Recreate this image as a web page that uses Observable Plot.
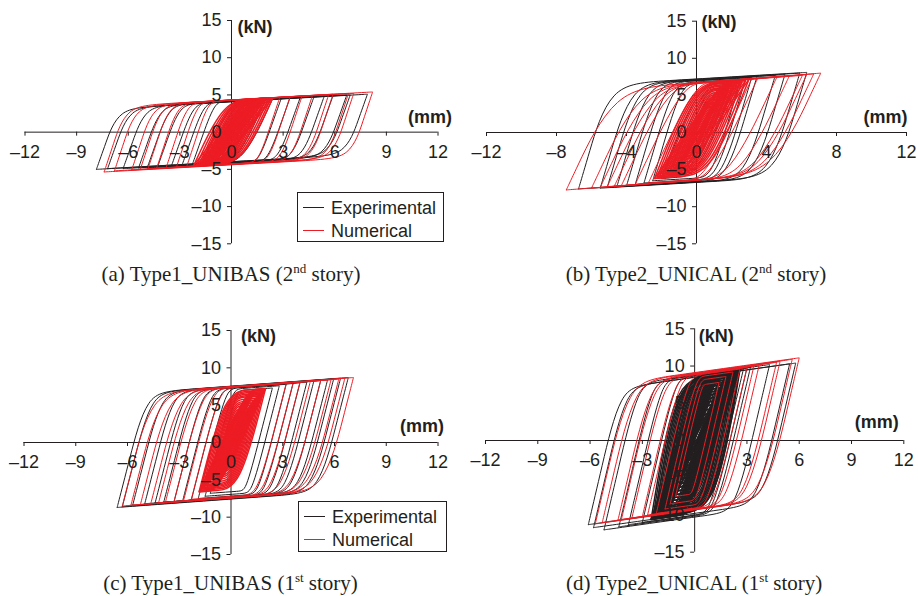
<!DOCTYPE html>
<html><head><meta charset="utf-8">
<script src="https://cdn.jsdelivr.net/npm/d3@7"></script>
<script src="https://cdn.jsdelivr.net/npm/@observablehq/plot@0.6"></script>
<style>
body{margin:0;background:#fff;}
#wrap{position:relative;width:918px;height:596px;overflow:hidden;font-family:"Liberation Sans",Arial,sans-serif;color:#231f20;}
.panel{position:absolute;}
.cap{position:absolute;width:400px;text-align:center;font-family:"Liberation Serif","Times New Roman",serif;font-size:21px;line-height:22px;white-space:nowrap;color:#231f20;}
.cap sup{font-size:0.62em;vertical-align:0.6em;line-height:0;}
.legend{position:absolute;border:1px solid #231f20;background:#fff;box-sizing:border-box;}
.legend .row{position:absolute;left:0;height:20px;line-height:20px;font-size:18px;white-space:nowrap;}
.legend .sw{position:absolute;left:5px;top:9.5px;width:21px;height:1.3px;}
.legend .lab{position:absolute;left:33px;top:0;}
</style>
</head><body><div id="wrap"></div>
<script>
// ---------- tick values and labels ----------
const xTicks3 = [-12, -9, -6, -3, 0, 3, 6, 9, 12];
const xLabels3 = ["\u201312", "\u20139", "\u20136", "\u20133", "0", "3", "6", "9", "12"];
const xTicks4 = [-12, -8, -4, 0, 4, 8, 12];
const xLabels4 = ["\u201312", "\u20138", "\u20134", "0", "4", "8", "12"];
const yTicks = [-15, -10, -5, 0, 5, 10, 15];
const yLabels = ["\u201315", "\u201310", "\u20135", "0", "5", "10", "15"];
const legendLabels = ["Experimental", "Numerical"];
const captionLetters = ["(a)", "(b)", "(c)", "(d)"];
const captionNames = ["Type1_UNIBAS", "Type2_UNICAL", "Type1_UNIBAS", "Type2_UNICAL"];
const captionStory = ["2", "2", "1", "1"];
const captionOrd = ["nd", "nd", "st", "st"];

// ---------- hysteresis cycles: [neg. peak disp (mm), force there (kN), pos. peak disp (mm), force there (kN)] ----------
const aExp = [
[-7.85,-5.0,7.9,5.1],[-7.2,-4.9,6.9,5.0],[-6.3,-4.9,6.7,5.0],[-5.4,-4.8,5.9,4.9],
[-4.9,-4.8,5.4,4.9],[-4.3,-4.7,4.8,4.8],[-3.5,-4.6,4.0,4.7],[-2.9,-4.6,3.4,4.6],
[-2.3,-4.5,2.9,4.6]];
const aExpCore = [[-1.8,-4.4,2.4,4.5],[-1.5,-4.3,2.0,4.4],[-1.2,-4.2,1.6,4.3],[-1.0,-4.1,1.3,4.2]];
const aNum = [
[-7.4,-5.35,8.2,5.4],[-6.8,-5.2,7.1,5.2],[-5.8,-5.1,6.8,5.2],[-5.3,-5.0,5.9,5.1],
[-4.85,-4.9,5.65,5.05],[-4.35,-4.85,4.7,4.9],[-3.8,-4.8,4.1,4.85],[-3.2,-4.7,3.4,4.75],
[-2.6,-4.6,2.8,4.65]];
const aNumCore = [
[-2.2,-4.5,2.4,4.6],[-2.05,-4.5,2.3,4.6],[-1.9,-4.4,2.15,4.5],[-1.8,-4.4,2.0,4.5],
[-1.7,-4.3,1.9,4.4],[-1.6,-4.3,1.8,4.4],[-1.5,-4.2,1.7,4.3],[-1.4,-4.2,1.6,4.3],
[-1.3,-4.1,1.5,4.2],[-1.2,-4.0,1.4,4.1],[-1.1,-3.9,1.3,4.0],[-1.0,-3.8,1.2,3.9],
[-0.9,-3.7,1.1,3.8],[-0.8,-3.5,1.0,3.6],[-0.6,-3.0,0.8,3.2],[-0.45,-2.5,0.6,2.7]];
const bExp = [
[-6.74,-7.6,6.3,8.1],[-5.5,-7.5,5.9,8.0],[-5.1,-7.4,5.05,7.8],[-4.55,-7.3,4.5,7.7],
[-4.0,-7.2,3.45,7.5],[-3.5,-7.0,3.15,7.4],[-3.0,-6.8,2.8,7.2],[-2.5,-6.5,2.5,7.0]];
const bExpCore = [[-2.0,-6.2,2.2,6.8],[-1.6,-5.8,1.9,6.5],[-1.3,-5.2,1.6,6.0],[-1.0,-4.6,1.3,5.4]];
const bNum = [
[-7.44,-7.74,7.1,8.0],[-6.0,-7.5,6.7,7.9],[-5.5,-7.4,6.3,7.8],[-5.1,-7.3,6.05,7.7],
[-4.7,-7.25,5.3,7.6],[-4.3,-7.2,4.6,7.5],[-3.5,-7.0,3.5,7.3],[-2.75,-6.8,3.15,7.2]];
const bNumCore = [
[-2.4,-6.2,3.0,7.2],[-2.25,-6.0,2.8,7.0],[-2.1,-5.8,2.6,6.8],[-1.95,-5.6,2.45,6.6],
[-1.8,-5.4,2.3,6.4],[-1.65,-5.2,2.15,6.2],[-1.5,-5.0,2.0,6.0],[-1.35,-4.8,1.85,5.8],
[-1.2,-4.6,1.7,5.5],[-1.05,-4.3,1.55,5.2],[-0.9,-4.0,1.4,4.9],[-0.75,-3.6,1.2,4.5],
[-0.6,-3.2,1.0,4.0],[-0.5,-2.8,0.85,3.5]];
const cExp = [
[-6.6,-8.7,6.8,8.7],[-6.3,-8.6,6.35,8.6],[-5.7,-8.4,5.95,8.5],[-5.0,-8.2,5.6,8.4],
[-4.4,-8.1,5.2,8.3],[-3.9,-8.0,4.8,8.2],[-3.3,-7.9,4.4,8.1],[-2.8,-7.8,4.0,8.0],
[-2.3,-7.7,3.6,7.9],[-1.9,-7.5,3.2,7.8],[-1.5,-7.2,2.8,7.6],[-1.2,-6.8,2.4,7.3]];
const cNum = [
[-6.3,-8.5,7.1,8.7],[-5.8,-8.4,6.6,8.6],[-5.25,-8.3,6.25,8.5],[-4.65,-8.2,5.8,8.4],
[-4.2,-8.1,5.2,8.3],[-3.8,-8.0,4.6,8.2],[-3.3,-7.9,4.0,8.1],[-2.75,-7.8,3.6,8.0],
[-2.3,-7.6,3.2,7.9]];
const cNumCore = [
[-1.85,-6.6,2.0,7.2],[-1.75,-6.4,1.9,7.0],[-1.65,-6.2,1.8,6.8],[-1.55,-6.0,1.7,6.6],
[-1.45,-5.8,1.6,6.4],[-1.35,-5.6,1.5,6.2],[-1.25,-5.3,1.4,5.9],[-1.15,-5.0,1.3,5.6],
[-1.05,-4.7,1.2,5.3],[-0.95,-4.4,1.1,5.0],[-0.85,-4.0,1.0,4.6],[-0.75,-3.7,0.9,4.2],
[-0.65,-3.4,0.8,3.8],[-0.55,-3.0,0.7,3.4]];
const dExp = [
[-6.1,-11.3,5.8,10.4],[-5.8,-11.7,5.45,10.3],[-5.2,-12.0,4.3,10.2],[-4.35,-11.6,3.2,9.8],
[-3.8,-11.3,3.0,9.7],[-3.0,-11.0,2.8,9.6]];
const dExpCore = [
[-2.4,-10.4,2.6,9.5],[-2.3,-10.3,2.5,9.4],[-2.2,-10.2,2.4,9.3],[-2.1,-10.0,2.3,9.2],
[-2.0,-9.8,2.2,9.0],[-1.9,-9.6,2.1,8.8],[-1.8,-9.4,2.0,8.6],[-1.7,-9.1,1.9,8.4],
[-1.6,-8.8,1.8,8.1],[-1.5,-8.5,1.7,7.8],[-1.4,-8.1,1.6,7.5],[-1.3,-7.7,1.5,7.1],
[-1.2,-7.3,1.4,6.7],[-1.1,-6.8,1.3,6.3],[-1.0,-6.3,1.2,5.8],[-0.9,-5.8,1.1,5.3],
[-0.8,-5.2,1.0,4.8],[-0.7,-4.6,0.9,4.2],[-0.6,-4.0,0.8,3.6],[-0.5,-3.4,0.7,3.0],
[-0.4,-2.6,0.55,2.4],
[-2.3,-10.5,1.8,8.8],[-1.7,-10.0,2.4,9.3],[-2.0,-10.2,1.4,8.0],[-1.4,-9.0,2.2,9.0],
[-2.5,-10.6,2.0,9.0],[-1.9,-10.1,2.55,9.4]];
const dNum = [
[-5.7,-11.2,6.0,11.1],[-5.3,-11.0,5.6,10.9],[-4.4,-10.7,4.9,10.6],[-4.2,-10.6,4.7,10.5],
[-3.6,-10.4,3.7,10.1],[-3.0,-10.2,3.4,10.0],[-2.7,-10.0,3.0,9.8],[-2.2,-9.8,2.6,9.6],
[-1.7,-9.2,2.2,9.2],[-1.4,-8.5,1.8,8.6],[-1.1,-7.5,1.4,7.8]];

// branch shape read from the loops: [elastic slope kN/mm, post-yield slope kN/mm, knee rounding on elastic side, on plateau side]
const aExpShape = [6.5, 0.13, 0.6, 0.15], aNumShape = [7, 0.13, 0.6, 0.15];
const aCoreShape = [5, 0.13, 0.9, 0.6], aCoreNarrowShape = [3, 0.13, 0.9, 0.6];
const bExpShape = [8, 0.14, 0.7, 0.25], bNumShape = [5, 0.18, 0.85, 0.3];
const bCoreShape = [6, 0.18, 0.9, 0.6], bCoreNarrowShape = [3.5, 0.18, 0.9, 0.6];
const cExpShape = [9, 0.17, 0.6, 0.15], cNumShape = [9, 0.17, 0.7, 0.2];
const cCoreShape = [9, 0.17, 0.9, 0.6], cCoreNarrowShape = [5, 0.17, 0.9, 0.6];
const dExpShape = [10, 0.33, 0.6, 0.15], dNumShape = [10, 0.33, 0.7, 0.2];
const dCoreShape = [14, 0.33, 0.9, 0.6], dCoreNarrowShape = [7, 0.33, 0.9, 0.6], dCoreChordShape = [2, 0.33, 0.9, 0.6];

const ink = "#231f20";
const redInk = "#ed1c24";

// each cycle: negative peak -> elastic rise -> rounded knee -> positive peak -> elastic drop -> rounded knee -> negative peak
function cyclePoints(cycles, shape, tag) {
  const [K, h, a, b] = shape;
  const lerp = (p, q, t) => [p[0] + (q[0] - p[0]) * t, p[1] + (q[1] - p[1]) * t];
  const pts = [];
  cycles.forEach(([dn, Fn, dp, Fp], i) => {
    const T = [dn, Fn], U = [dp, Fp];
    const span = (Fp - Fn - h * (dp - dn)) / (K - h);
    const seq = [T, T, T];
    if (span > 0 && span < dp - dn) {
      const K1 = [dn + span, Fn + K * span], K2 = [dp - span, Fp - K * span];
      seq.push(lerp(K1, T, a), K1, lerp(K1, U, b), U, U, U, lerp(K2, U, a), K2, lerp(K2, T, b), T, T, T);
    } else {
      seq.push(U, U, U, T, T, T);
    }
    seq.forEach(([x, y]) => pts.push({x, y, loop: tag + i}));
  });
  return pts;
}

// layers: [cycles, shape, colour, stroke width]
const panels = [
  {left: 0, top: 0, ml: 24.5, mr: 21.5, mt: 20, mb: 16.7, xt: xTicks3, xl: xLabels3,
   layers: [[aExp, aExpShape, ink, 1], [aExpCore, aCoreShape, ink, 1], [aNum, aNumShape, redInk, 1],
            [aNumCore, aCoreShape, redInk, 1.5], [aNumCore, aCoreNarrowShape, redInk, 1.5]],
   kn: [6, 7], mm: [14, -14.5], legend: [297, 192, 147, 50]},
  {left: 459, top: 0, ml: 27, mr: 12, mt: 20.7, mb: 16.7, xt: xTicks4, xl: xLabels4,
   layers: [[bExp, bExpShape, ink, 1], [bExpCore, bCoreShape, ink, 1], [bNum, bNumShape, redInk, 1],
            [bNumCore, bCoreShape, redInk, 1.5], [bNumCore, bCoreNarrowShape, redInk, 1.5]],
   kn: [5, 1], mm: [1, -15.5], legend: null},
  {left: 0, top: 309, ml: 23.5, mr: 21.5, mt: 21, mb: 15, xt: xTicks3, xl: xLabels3,
   layers: [[cExp, cExpShape, ink, 1], [cNum, cNumShape, redInk, 1],
            [cNumCore, cCoreShape, redInk, 1.5], [cNumCore, cCoreNarrowShape, redInk, 1.5]],
   kn: [10, 6], mm: [6, -16.5], legend: [298, 501, 149, 51]},
  {left: 459, top: 309, ml: 26, mr: 14.7, mt: 19.3, mb: 17.3, xt: xTicks3, xl: xLabels3,
   layers: [[dExp, dExpShape, ink, 1], [dExpCore, dCoreShape, ink, 1.5], [dExpCore, dCoreNarrowShape, ink, 1.5],
            [dExpCore, dCoreChordShape, ink, 1.5], [dNum, dNumShape, redInk, 1]],
   kn: [4, 7], mm: [-5, -18], legend: null}
];

const wrap = document.getElementById("wrap");
const W = 459, H = 260;

panels.forEach((p, k) => {
  const lineMarks = p.layers.map(([cycles, shape, color, sw], j) =>
    Plot.line(cyclePoints(cycles, shape, "s" + j + "_"), {
      x: "x", y: "y", z: "loop", curve: "basis", stroke: color, strokeWidth: sw, strokeLinejoin: "round"
    }));
  const chart = Plot.plot({
    width: W, height: H,
    marginLeft: p.ml, marginRight: p.mr, marginTop: p.mt, marginBottom: p.mb,
    x: {domain: [-12, 12], axis: null},
    y: {domain: [-15, 15], axis: null},
    style: {fontFamily: "'Liberation Sans', Arial, sans-serif", fontSize: "18px", color: ink, background: "transparent", overflow: "visible"},
    marks: [
      Plot.ruleY([0], {x1: -12, x2: 12, stroke: ink, strokeWidth: 1}),
      Plot.ruleX([0], {y1: -15, y2: 15, stroke: ink, strokeWidth: 1}),
      Plot.ruleX(p.xt, {x: d => d, y1: 0, y2: 0, insetBottom: -4, stroke: ink}),
      Plot.ruleY(yTicks, {y: d => d, x1: 0, x2: 0, insetLeft: -4, stroke: ink}),
      ...lineMarks,
      Plot.text(p.xt, {x: d => d, y: 0, text: (d, i) => p.xl[i], dy: 20, fill: ink, fontSize: 18}),
      Plot.text(yTicks, {x: 0, y: d => d, text: (d, i) => yLabels[i], dx: -10, textAnchor: "end", fill: ink, fontSize: 18}),
      Plot.text(["(kN)"], {x: 0, y: 15, text: d => d, dx: p.kn[0], dy: p.kn[1], textAnchor: "start", fontWeight: "bold", fill: ink, fontSize: 18}),
      Plot.text(["(mm)"], {x: 12, y: 0, text: d => d, dx: p.mm[0], dy: p.mm[1], textAnchor: "end", fontWeight: "bold", fill: ink, fontSize: 18})
    ]
  });
  const div = document.createElement("div");
  div.className = "panel";
  div.style.left = p.left + "px";
  div.style.top = p.top + "px";
  div.appendChild(chart);
  wrap.appendChild(div);

  // caption centred on the force axis
  const axisX = p.left + p.ml + (W - p.ml - p.mr) / 2;
  const cap = document.createElement("div");
  cap.className = "cap";
  cap.style.left = (axisX - 200) + "px";
  cap.style.top = (p.top + 263) + "px";
  cap.innerHTML = `${captionLetters[k]} ${captionNames[k]} (${captionStory[k]}<sup>${captionOrd[k]}</sup> story)`;
  wrap.appendChild(cap);

  if (p.legend) {
    const [lx, ly, lw, lh] = p.legend;
    const lg = document.createElement("div");
    lg.className = "legend";
    Object.assign(lg.style, {left: lx + "px", top: ly + "px", width: lw + "px", height: lh + "px"});
    [ink, redInk].forEach((c, r) => {
      const row = document.createElement("div");
      row.className = "row";
      row.style.top = (r === 0 ? 4.5 : 27.5) + "px";
      row.style.width = lw + "px";
      row.innerHTML = `<span class="sw" style="background:${c}"></span><span class="lab">${legendLabels[r]}</span>`;
      lg.appendChild(row);
    });
    wrap.appendChild(lg);
  }
});
</script>
</body></html>
